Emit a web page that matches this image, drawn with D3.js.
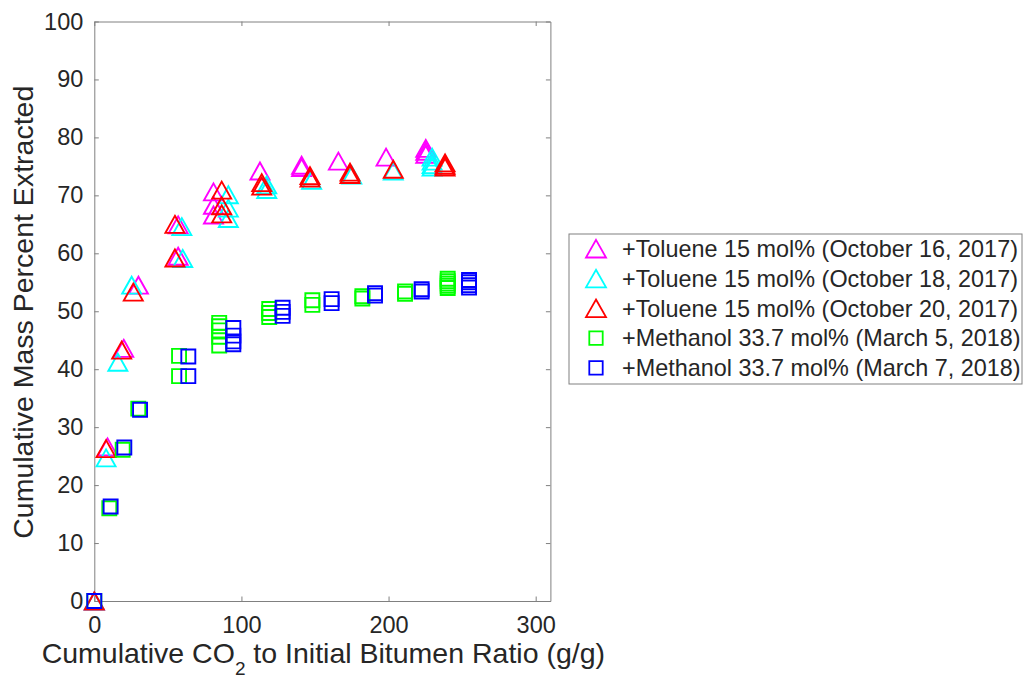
<!DOCTYPE html>
<html>
<head>
<meta charset="utf-8">
<script src="https://cdn.jsdelivr.net/npm/d3@7"></script>
<style>
  html, body { margin: 0; padding: 0; background: #fff; }
  svg { display: block; font-family: "Liberation Sans", Arial, Helvetica, sans-serif; }
</style>
</head>
<body>
<div id="chart"></div>
<script>
// ── Data ───────────────────────────────────────────────────────────────

const xTicks = [0, 100, 200, 300];
const yTicks = [0, 10, 20, 30, 40, 50, 60, 70, 80, 90, 100];

const tolOct16X = [0, 9, 20, 30, 57, 57, 81, 81, 81, 112.6, 140.9, 140.9, 165.9, 198.3, 225.3, 225.3, 225.3];
const tolOct16Y = [0, 26.6, 43.6, 54.5, 64.9, 59.5, 70.6, 68.3, 66.6, 74.2, 75.2, 74.8, 75.9, 76.6, 78.1, 77.6, 77.1];

const tolOct18X = [0, 8, 16, 25.4, 59.5, 60.1, 91.1, 91.1, 91.1, 117.2, 117.2, 147.7, 175, 203.2, 229.6, 229.6, 229.6, 229.6];
const tolOct18Y = [0, 24.7, 41.2, 54.5, 64.6, 59.1, 70.1, 67.8, 66.0, 71.8, 71.0, 72.6, 73.5, 74.2, 76.6, 75.9, 75.3, 74.9];

const tolOct20X = [0, 8, 18.6, 26.5, 54.8, 54.8, 86.6, 86.6, 86.6, 113.8, 113.8, 146.6, 146.6, 173.8, 173.8, 203.2, 238.4, 238.4, 238.4];
const tolOct20Y = [0, 26.3, 43.3, 53.3, 65.0, 59.2, 70.9, 68.2, 66.8, 72.2, 71.6, 73.4, 73.0, 74.0, 73.6, 74.5, 75.6, 75.2, 74.9];

const metMar5X = [0, 10.2, 19.3, 29.9, 57.6, 57.6, 84.9, 84.9, 84.9, 84.9, 84.9, 118.9, 118.9, 118.9, 148.2, 148.2, 182.2, 182.2, 211.2, 211.2, 240.2, 240.2, 240.2, 240.2, 240.2];
const metMar5Y = [0, 16.0, 26.1, 33.2, 42.3, 38.8, 48.0, 47.4, 46.7, 45.6, 44.1, 50.4, 49.7, 49.0, 51.9, 51.1, 52.6, 52.2, 53.4, 53.0, 55.6, 55.2, 54.8, 54.4, 54.0];

const metMar7X = [0, 11.1, 20.4, 31.1, 63.9, 63.9, 94.5, 94.5, 94.5, 94.5, 128, 128, 128, 161.3, 161.3, 190.8, 190.8, 222.5, 222.5, 254.7, 254.7, 254.7, 254.7];
const metMar7Y = [0, 16.3, 26.5, 33.0, 42.2, 38.8, 47.1, 45.8, 44.8, 44.3, 50.6, 49.9, 49.2, 52.1, 51.4, 53.1, 52.7, 53.8, 53.4, 55.4, 55.0, 54.5, 54.1];

const seriesNames = [
  "+Toluene 15 mol% (October 16, 2017)",
  "+Toluene 15 mol% (October 18, 2017)",
  "+Toluene 15 mol% (October 20, 2017)",
  "+Methanol 33.7 mol% (March 5, 2018)",
  "+Methanol 33.7 mol% (March 7, 2018)"
];
const seriesColors = ["#ff00ff", "#00ffff", "#ff0000", "#00ff00", "#0000ff"];
const seriesShapes = ["tri", "tri", "tri", "sq", "sq"];
const seriesX = [tolOct16X, tolOct18X, tolOct20X, metMar5X, metMar7X];
const seriesY = [tolOct16Y, tolOct18Y, tolOct20Y, metMar5Y, metMar7Y];

// ── Setup ──────────────────────────────────────────────────────────────

const W = 1023, H = 681;
const TXT = "#262626", AX = "#808080";
const plot = { left: 94.3, right: 550.4, top: 21.5, bottom: 601 };

const svg = d3.select("#chart").append("svg").attr("width", W).attr("height", H);

const x = d3.scaleLinear().domain([0, 310]).range([plot.left, plot.right]);
const y = d3.scaleLinear().domain([0, 100]).range([plot.bottom, plot.top]);

// marker shapes (bbox centred)
const triPath = "M0,-8.5L9.5,8.5L-9.5,8.5Z";
const sqPath = "M-7,-7H7V7H-7Z";
const shapePath = s => s === "tri" ? triPath : sqPath;

// ── Axes ───────────────────────────────────────────────────────────────

const tickLen = 4.5;

const axB = svg.append("g").attr("transform", `translate(0,${plot.bottom})`)
  .call(d3.axisBottom(x).tickValues(xTicks).tickSizeInner(-tickLen).tickSizeOuter(0).tickPadding(15));
const axT = svg.append("g").attr("transform", `translate(0,${plot.top})`)
  .call(d3.axisTop(x).tickValues(xTicks).tickSizeInner(-tickLen).tickSizeOuter(0).tickFormat(""));
const axL = svg.append("g").attr("transform", `translate(${plot.left},0)`)
  .call(d3.axisLeft(y).tickValues(yTicks).tickSizeInner(-tickLen).tickSizeOuter(0).tickPadding(11));
const axR = svg.append("g").attr("transform", `translate(${plot.right},0)`)
  .call(d3.axisRight(y).tickValues(yTicks).tickSizeInner(-tickLen).tickSizeOuter(0).tickFormat(""));

[axB, axT, axL, axR].forEach(a => {
  a.select(".domain").attr("stroke", AX).attr("stroke-width", 1);
  a.selectAll(".tick line").attr("stroke", AX).attr("stroke-width", 1);
  a.selectAll(".tick text").attr("fill", TXT).attr("font-size", 23.5)
    .attr("font-family", "'Liberation Sans', Arial, Helvetica, sans-serif");
});
axB.selectAll(".tick text").attr("dy", "0.71em");

// ── Labels ─────────────────────────────────────────────────────────────

const xl = svg.append("text")
  .attr("x", (plot.left + plot.right) / 2 + 1).attr("y", 663)
  .attr("text-anchor", "middle").attr("fill", TXT).attr("font-size", 28.5);
xl.append("tspan").text("Cumulative CO");
xl.append("tspan").attr("font-size", 19).attr("dy", 12).text("2");
xl.append("tspan").attr("dy", -12).text(" to Initial Bitumen Ratio (g/g)");

svg.append("text")
  .attr("transform", `translate(33,${(plot.top + plot.bottom) / 2 + 1}) rotate(-90)`)
  .attr("text-anchor", "middle").attr("fill", TXT).attr("font-size", 28.5)
  .text("Cumulative Mass Percent Extracted");

// ── Points ─────────────────────────────────────────────────────────────

const pts = svg.append("g");
seriesX.forEach((xs, s) => {
  pts.append("g").selectAll("path").data(xs.map((v, i) => ({ x: v, y: seriesY[s][i] }))).join("path")
    .attr("d", shapePath(seriesShapes[s]))
    .attr("transform", d => `translate(${x(d.x)},${y(d.y)})`)
    .attr("fill", "none")
    .attr("stroke", seriesColors[s])
    .attr("stroke-width", 1.9);
});

// ── Legend ─────────────────────────────────────────────────────────────

const lg = svg.append("g");
lg.append("rect").attr("x", 569).attr("y", 234).attr("width", 453).attr("height", 150)
  .attr("fill", "#fff").attr("stroke", AX).attr("stroke-width", 1);

const rows = lg.selectAll("g.row").data(seriesNames).join("g").attr("class", "row")
  .attr("transform", (d, i) => `translate(596,${248.7 + i * 29.8})`);
rows.append("path")
  .attr("d", (d, i) => seriesShapes[i] === "tri" ? "M0,-8.8L10,8.8L-10,8.8Z" : "M-6.7,-6.7H6.7V6.7H-6.7Z")
  .attr("fill", "none").attr("stroke", (d, i) => seriesColors[i]).attr("stroke-width", 1.8);
rows.append("text").attr("x", 26).attr("dy", "0.35em")
  .attr("fill", TXT).attr("font-size", 23.4).text(d => d);
</script>
</body>
</html>
